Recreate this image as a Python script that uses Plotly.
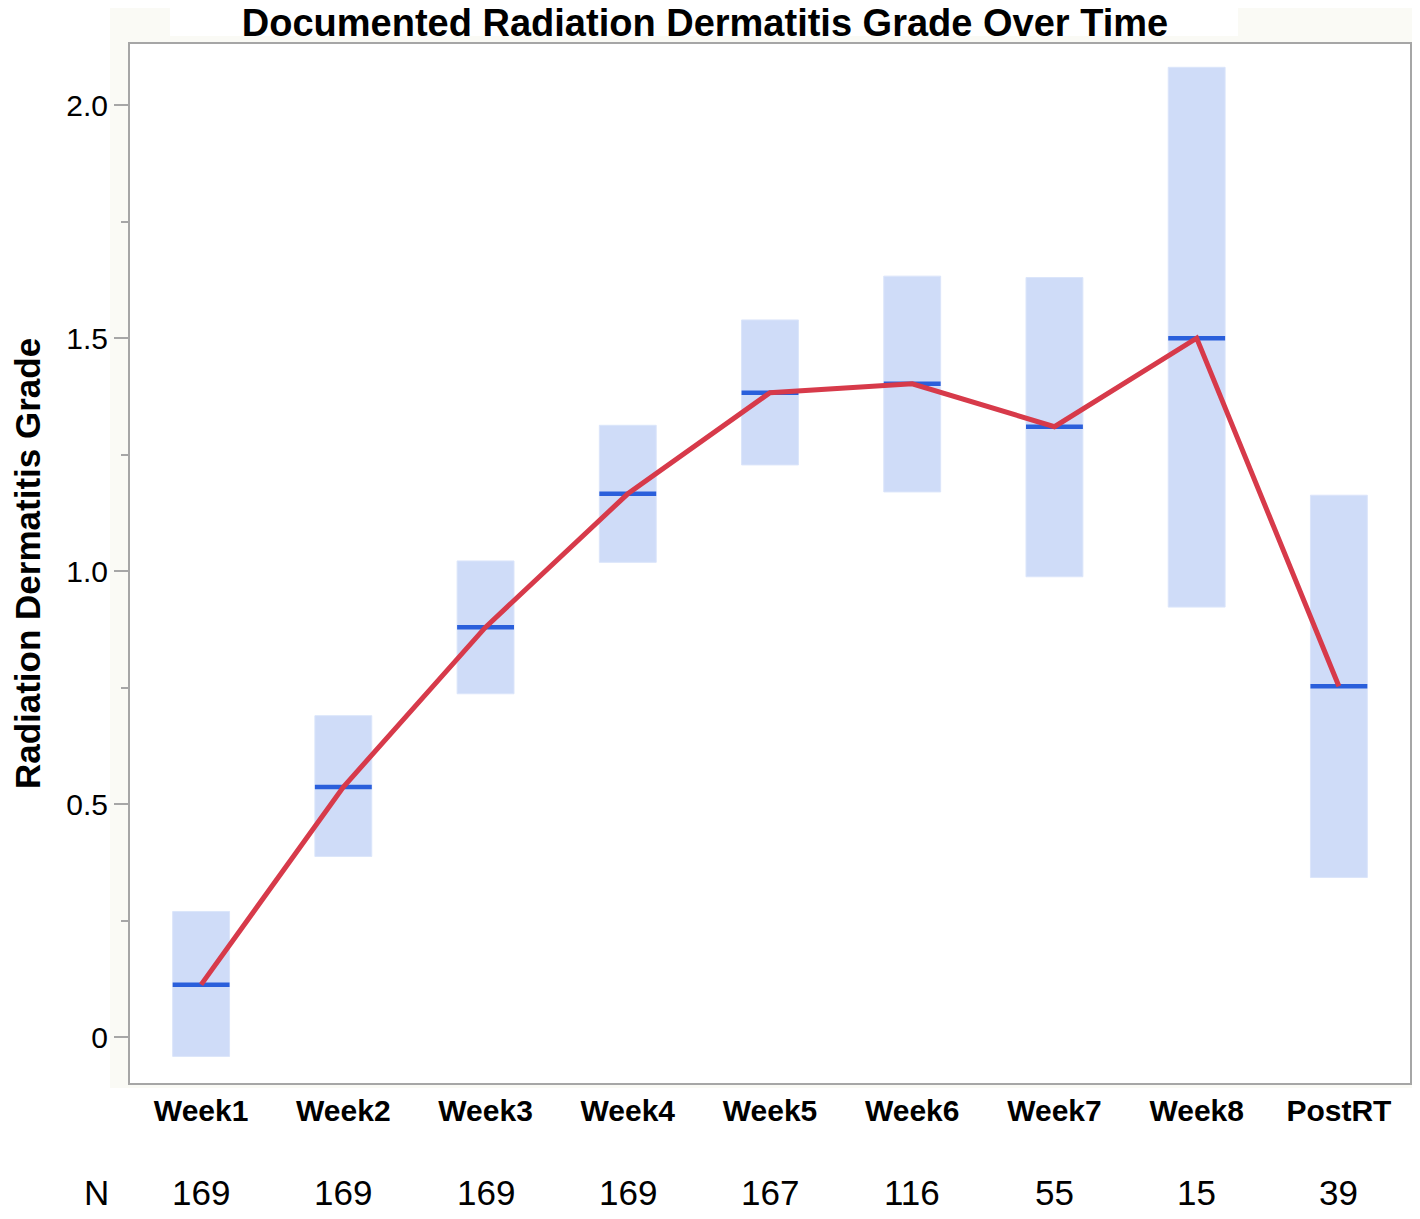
import plotly.graph_objects as go

categories = ["Week1", "Week2", "Week3", "Week4", "Week5", "Week6", "Week7", "Week8", "PostRT"]
n_values = [169, 169, 169, 169, 167, 116, 55, 15, 39]
means = [0.113, 0.537, 0.880, 1.166, 1.383, 1.402, 1.310, 1.500, 0.753]
upper = [0.270, 0.690, 1.022, 1.313, 1.539, 1.633, 1.630, 2.081, 1.163]
lower = [-0.041, 0.388, 0.737, 1.019, 1.228, 1.170, 0.988, 0.923, 0.343]
ytick_vals = [0, 0.5, 1.0, 1.5, 2.0]
ytick_text = ["0", "0.5", "1.0", "1.5", "2.0"]
yminor_vals = [0.25, 0.75, 1.25, 1.75]

FONT = "Liberation Sans"
BOX_W = 0.4
idx = list(range(len(categories)))

# page offset (body margin) compensation
OFF = 8
W, H = 1420 - OFF, 1219 - OFF
# plot area in reference-pixel coordinates
PL, PR, PT, PB = 130, 1410, 44, 1083
L, T = PL - OFF, PT - OFF
R, B = W - (PR - OFF), H - (PB - OFF)
pw, ph = W - L - R, H - T - B


def px(x):
    return (x - OFF - L) / pw


def py(y):
    return (H - B - (y - OFF)) / ph


fig = go.Figure()

# confidence boxes
fig.add_trace(go.Bar(
    x=idx, y=[u - l for u, l in zip(upper, lower)], base=lower, width=BOX_W,
    marker=dict(color="#cfdcf8", line=dict(color="#dbe5fa", width=1)),
    hoverinfo="skip", showlegend=False,
))

# mean ticks
mx, my = [], []
for i, m in zip(idx, means):
    mx += [i - BOX_W / 2, i + BOX_W / 2, None]
    my += [m, m, None]
fig.add_trace(go.Scatter(
    x=mx, y=my, mode="lines", line=dict(color="#2a5fdb", width=4.5),
    hoverinfo="skip", showlegend=False,
))

# mean connecting line
fig.add_trace(go.Scatter(
    x=idx, y=means, mode="lines", line=dict(color="#d73a4a", width=5),
    showlegend=False,
))

# N row
ny = py(1192)
annotations = [dict(x=px(96), y=ny, xref="paper", yref="paper", text="N", showarrow=False,
                    font=dict(family=FONT, size=35, color="black"), xanchor="center", yanchor="middle")]
for i, n in zip(idx, n_values):
    annotations.append(dict(x=i, y=ny, xref="x", yref="paper", text=str(n), showarrow=False,
                            font=dict(family=FONT, size=35, color="black"),
                            xanchor="center", yanchor="middle"))

shapes = [
    dict(type="rect", xref="paper", yref="paper", x0=px(110), x1=px(1430), y0=py(1088), y1=py(-20),
         fillcolor="#fafaf5", line=dict(width=0), layer="below"),
    dict(type="rect", xref="paper", yref="paper", x0=px(170), x1=px(1238), y0=py(36), y1=py(-20),
         fillcolor="white", line=dict(width=0), layer="below"),
    dict(type="rect", xref="paper", yref="paper", x0=0, x1=1, y0=0, y1=1,
         fillcolor="white", line=dict(width=0), layer="below"),
]

fig.update_layout(
    width=W, height=H,
    margin=dict(l=L, r=R, t=T, b=B, autoexpand=False),
    paper_bgcolor="white", plot_bgcolor="white",
    barmode="overlay",
    title=dict(text="<b>Documented Radiation Dermatitis Grade Over Time</b>",
               x=px(705), xref="paper", xanchor="center",
               y=1 - (23 - OFF) / H, yref="container", yanchor="middle",
               font=dict(family=FONT, size=38, color="black")),
    xaxis=dict(
        range=[-0.5, 8.5], tickmode="array", tickvals=idx,
        ticktext=["<b>%s</b>" % c for c in categories],
        tickfont=dict(family=FONT, size=30, color="black"),
        ticks="", ticklen=0,
        showline=True, linecolor="#a6a6a6", linewidth=2, mirror=True,
        showgrid=False, zeroline=False, fixedrange=True,
    ),
    yaxis=dict(
        range=[-0.098, 2.131], tickmode="array", tickvals=ytick_vals, ticktext=ytick_text,
        tickfont=dict(family=FONT, size=30, color="black"),
        ticks="outside", ticklen=14, tickwidth=2, tickcolor="#a6a6a6",
        minor=dict(tickmode="array", tickvals=yminor_vals, ticks="outside", ticklen=7,
                   tickwidth=2, tickcolor="#a6a6a6", showgrid=False),
        showline=True, linecolor="#a6a6a6", linewidth=2, mirror=True,
        showgrid=False, zeroline=False,
        title=dict(text="<b>Radiation Dermatitis Grade</b>",
                   font=dict(family=FONT, size=35, color="black"), standoff=26),
    ),
    shapes=shapes,
    annotations=annotations,
)

fig.write_html("out.html")
